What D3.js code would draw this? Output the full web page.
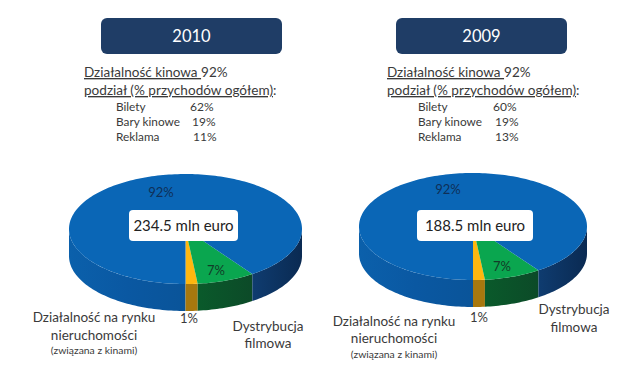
<!DOCTYPE html>
<html lang="en">
<head>
    <meta charset="UTF-8">
    <title>Działalność kinowa 2010 / 2009</title>
    <script src="https://d3js.org/d3.v7.min.js"></script>
    <style>
        html, body { margin: 0; padding: 0; background: #fff; }
        svg { display: block; }
        text { font-family: Lato, "Open Sans", sans-serif; fill: #3a3a3a; }
    </style>
</head>
<body>
    <div id="chart"></div>
    <script>
        // Data
        const years = ["2010", "2009"];
        const totals = ["234.5 mln euro", "188.5 mln euro"];
        const sliceNames = ["Nieruchomości", "Dystrybucja", "Kino"];
        const shares = [1, 7, 92];
        const breakdownNames = ["Bilety", "Bary kinowe", "Reklama"];
        const breakdown2010 = [62, 19, 11];
        const breakdown2009 = [60, 19, 13];
        const breakdowns = [breakdown2010, breakdown2009];

        const topColors = ["#ffb70f", "#0aa64f", "#0a66b6"];
        const sideColors = ["#a8780e", "url(#sideGreen)", null];

        // Layout of each panel, pixels
        const panels = [
            {box: [101, 18, 181, 36], textX: 84, listX: 116, valueX: [190, 192, 193],
             pie: {cx: 185.5, cy: 229, rx: 116.5, ry: 55, depth: 27},
             total: [129, 210, 109, 31, 231],
             pct92: [161, 197], pct7: [216, 275], pct1: [189, 323],
             dist: [268, 331, 348], prop: [94, 322, 340, 354]},
            {box: [396, 18, 171, 36], textX: 387, listX: 418, valueX: [493, 495, 495],
             pie: {cx: 473, cy: 226.5, rx: 114, ry: 53.5, depth: 27},
             total: [417, 210, 116, 31, 231],
             pct92: [448, 194], pct7: [502, 271], pct1: [479, 322],
             dist: [574, 314, 332], prop: [394, 326, 343, 358]}
        ];

        const width = 631, height = 374;
        const svg = d3.select("#chart").append("svg")
            .attr("width", width)
            .attr("height", height);

        const defs = svg.append("defs");
        function gradient(id, stops) {
            const g = defs.append("linearGradient").attr("id", id);
            stops.forEach(s => g.append("stop").attr("offset", s[0]).attr("stop-color", s[1]));
        }
        gradient("sideLeft", [[0, "#0b60ab"], [0.5, "#0a58a2"], [1, "#0a5499"]]);
        gradient("sideRight", [[0, "#0f3c70"], [1, "#0a2a52"]]);
        gradient("sideGreen", [[0, "#0a5a2b"], [1, "#0c4a28"]]);

        // The original pie is tilted in perspective: the front slices look wider
        const pieLayout = d3.pie().sort(null).startAngle(0).endAngle(2 * Math.PI);
        const arcs = pieLayout(shares);
        const angleScale = d3.scaleLinear()
            .domain([0, arcs[0].endAngle, arcs[1].endAngle, 2 * Math.PI])
            .range([0, 6, 35, 360].map(d => d * Math.PI / 180));

        function rimPoints(p, a0, a1) {
            const n = Math.max(2, Math.ceil(Math.abs(a1 - a0) * 40));
            return d3.range(n + 1).map(i => {
                const t = a0 + (a1 - a0) * i / n;
                return [p.cx + p.rx * Math.sin(t), p.cy + p.ry * Math.cos(t)];
            });
        }
        const line = d3.line();

        function drawSide(p, a0, a1, fill) {
            const top = rimPoints(p, a0, a1);
            const bottom = top.map(d => [d[0], d[1] + p.depth]).reverse();
            svg.append("path")
                .attr("d", line(top.concat(bottom)) + "Z")
                .attr("fill", fill);
        }

        function label(x, y, str, size, anchor, color) {
            return svg.append("text")
                .attr("x", x).attr("y", y)
                .attr("font-size", size)
                .attr("text-anchor", anchor || "start")
                .style("fill", color || null)
                .text(str);
        }

        panels.forEach((layout, i) => {
            const p = layout.pie;

            // title box
            svg.append("rect")
                .attr("x", layout.box[0]).attr("y", layout.box[1])
                .attr("width", layout.box[2]).attr("height", layout.box[3])
                .attr("rx", 6)
                .attr("fill", "#1f3d66");
            label(layout.box[0] + layout.box[2] / 2, layout.box[1] + 24, years[i], 16.5, "middle", "#fff");

            // text block
            const head = label(layout.textX, 77, "", 13.5);
            head.append("tspan").attr("text-decoration", "underline").text("Działalność kinowa ");
            head.append("tspan").text(shares[2] + "%");
            const sub = label(layout.textX, 95, "", 13.6);
            sub.append("tspan").attr("text-decoration", "underline").text("podział (% przychodów ogółem)");
            sub.append("tspan").text(":");
            breakdownNames.forEach((name, k) => {
                label(layout.listX, 111 + k * 15, name, 11.8);
                label(layout.valueX[k], 111 + k * 15, breakdowns[i][k] + "%", 12);
            });

            // pie side walls, front half only
            const a1 = angleScale(arcs[0].endAngle), a2 = angleScale(arcs[1].endAngle);
            drawSide(p, -Math.PI / 2, 0, "url(#sideLeft)");
            drawSide(p, 0, a1, sideColors[0]);
            drawSide(p, a1, a2, sideColors[1]);
            drawSide(p, a2, Math.PI / 2, "url(#sideRight)");

            // pie top face
            arcs.forEach((d, k) => {
                const pts = rimPoints(p, angleScale(d.startAngle), angleScale(d.endAngle));
                svg.append("path")
                    .attr("d", line([[p.cx, p.cy]].concat(pts)) + "Z")
                    .attr("fill", topColors[k]);
            });

            // total label
            svg.append("rect")
                .attr("x", layout.total[0]).attr("y", layout.total[1])
                .attr("width", layout.total[2]).attr("height", layout.total[3])
                .attr("rx", 4)
                .attr("fill", "#fff");
            label(layout.total[0] + layout.total[2] / 2, layout.total[4], totals[i], 15, "middle", "#222");

            // percent labels
            label(layout.pct92[0], layout.pct92[1], shares[2] + "%", 13, "middle", "#0f2f57");
            label(layout.pct7[0], layout.pct7[1], shares[1] + "%", 13, "middle", "#123c28");
            label(layout.pct1[0], layout.pct1[1], shares[0] + "%", 13, "middle");

            // category labels
            label(layout.dist[0], layout.dist[1], "Dystrybucja", 13.5, "middle");
            label(layout.dist[0], layout.dist[2], "filmowa", 13.5, "middle");
            label(layout.prop[0], layout.prop[1], "Działalność na rynku", 13.5, "middle");
            label(layout.prop[0], layout.prop[2], "nieruchomości", 13.5, "middle");
            label(layout.prop[0], layout.prop[3], "(związana z kinami)", 10.4, "middle");
        });
    </script>
</body>
</html>
